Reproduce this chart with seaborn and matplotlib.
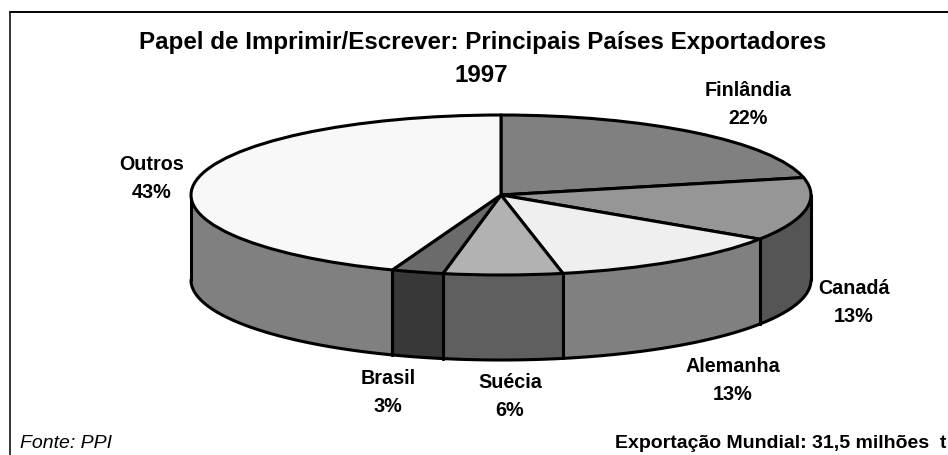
import numpy as np
import matplotlib
matplotlib.use("Agg")
import matplotlib.pyplot as plt
from matplotlib.lines import Line2D
import seaborn as sns

W, H = 948, 455

# ===========================
# DATA
# ===========================
paises = ["Finlândia", "Canadá", "Alemanha", "Suécia", "Brasil", "Outros"]
# slice sizes (the printed labels are rounded differently)
fatias = [21.5, 12.8, 12.5, 6.2, 2.7, 44.3]
rotulos = ["22%", "13%", "13%", "6%", "3%", "43%"]
cor_topo = ["#808080", "#969696", "#EFEFEF", "#B2B2B2", "#6B6B6B", "#F8F8F8"]
cor_lado = ["#808080", "#555555", "#808080", "#5F5F5F", "#383838", "#808080"]
pos_rotulos = [(748, 90), (854, 288), (733, 367), (510, 383), (388, 379), (152, 164)]

# ===========================
# LAYOUT (pixels of the picture)
# ===========================
CX, CY, RX, RY, DEPTH = 501, 195, 310, 80, 85
LW = 2.2

sns.set_theme(style="white")
plt.rcParams["font.family"] = ["Liberation Sans", "DejaVu Sans"]

fig = plt.figure(figsize=(W / 100, H / 100), dpi=100, facecolor="white")
ax = fig.add_axes([0, 0, 1, 1])

ax.pie(fatias, colors=cor_topo, startangle=90, counterclock=False, radius=1,
       wedgeprops=dict(edgecolor="black", linewidth=LW, joinstyle="round", zorder=3))
ax.set_aspect("auto")
ax.set_xlim(-CX / RX, (W - CX) / RX)
ax.set_ylim((CY - H) / RY, CY / RY)
ax.axis("off")

# side wall: the front half of each slice pushed down by the depth
d = DEPTH / RY
fim = 90 - np.cumsum(fatias) * 3.6
ini = np.r_[90, fim[:-1]]
for a, b, cor in zip(ini, fim, cor_lado):
    a2, b2 = min(a, 0), max(b, -180)
    if a2 <= b2:
        continue
    t = np.radians(np.linspace(a2, b2, 120))
    ax.fill_between(np.cos(t), np.sin(t), np.sin(t) - d, color=cor, linewidth=0, zorder=1)
    ax.plot(np.cos(t), np.sin(t) - d, color="black", lw=LW, zorder=2)
    for e in (t[0], t[-1]):
        ax.plot([np.cos(e)] * 2, [np.sin(e), np.sin(e) - d], color="black", lw=LW, zorder=2)

def texto(x, y, s, **kw):
    fig.text(x / W, 1 - y / H, s, va="center", color="black", **kw)

texto(483, 43, "Papel de Imprimir/Escrever: Principais Países Exportadores",
      ha="center", fontsize=17.4, fontweight="bold")
texto(481, 76, "1997", ha="center", fontsize=17.4, fontweight="bold")

for nome, rot, (x, y) in zip(paises, rotulos, pos_rotulos):
    texto(x, y, nome, ha="center", fontsize=14.2, fontweight="bold")
    texto(x, y + 28, rot, ha="center", fontsize=14.2, fontweight="bold")

texto(20, 444, "Fonte: PPI", ha="left", fontsize=14, style="italic")
texto(615, 444, "Exportação Mundial: 31,5 milhões  t", ha="left", fontsize=14, fontweight="bold")

# frame: only top and left show in the picture
fig.add_artist(Line2D([10 / W, 10 / W], [0, 1 - 12 / H], color="black", lw=1.1))
fig.add_artist(Line2D([10 / W, 1], [1 - 12 / H, 1 - 12 / H], color="black", lw=1.4))

fig.savefig("out.png", dpi=100)
